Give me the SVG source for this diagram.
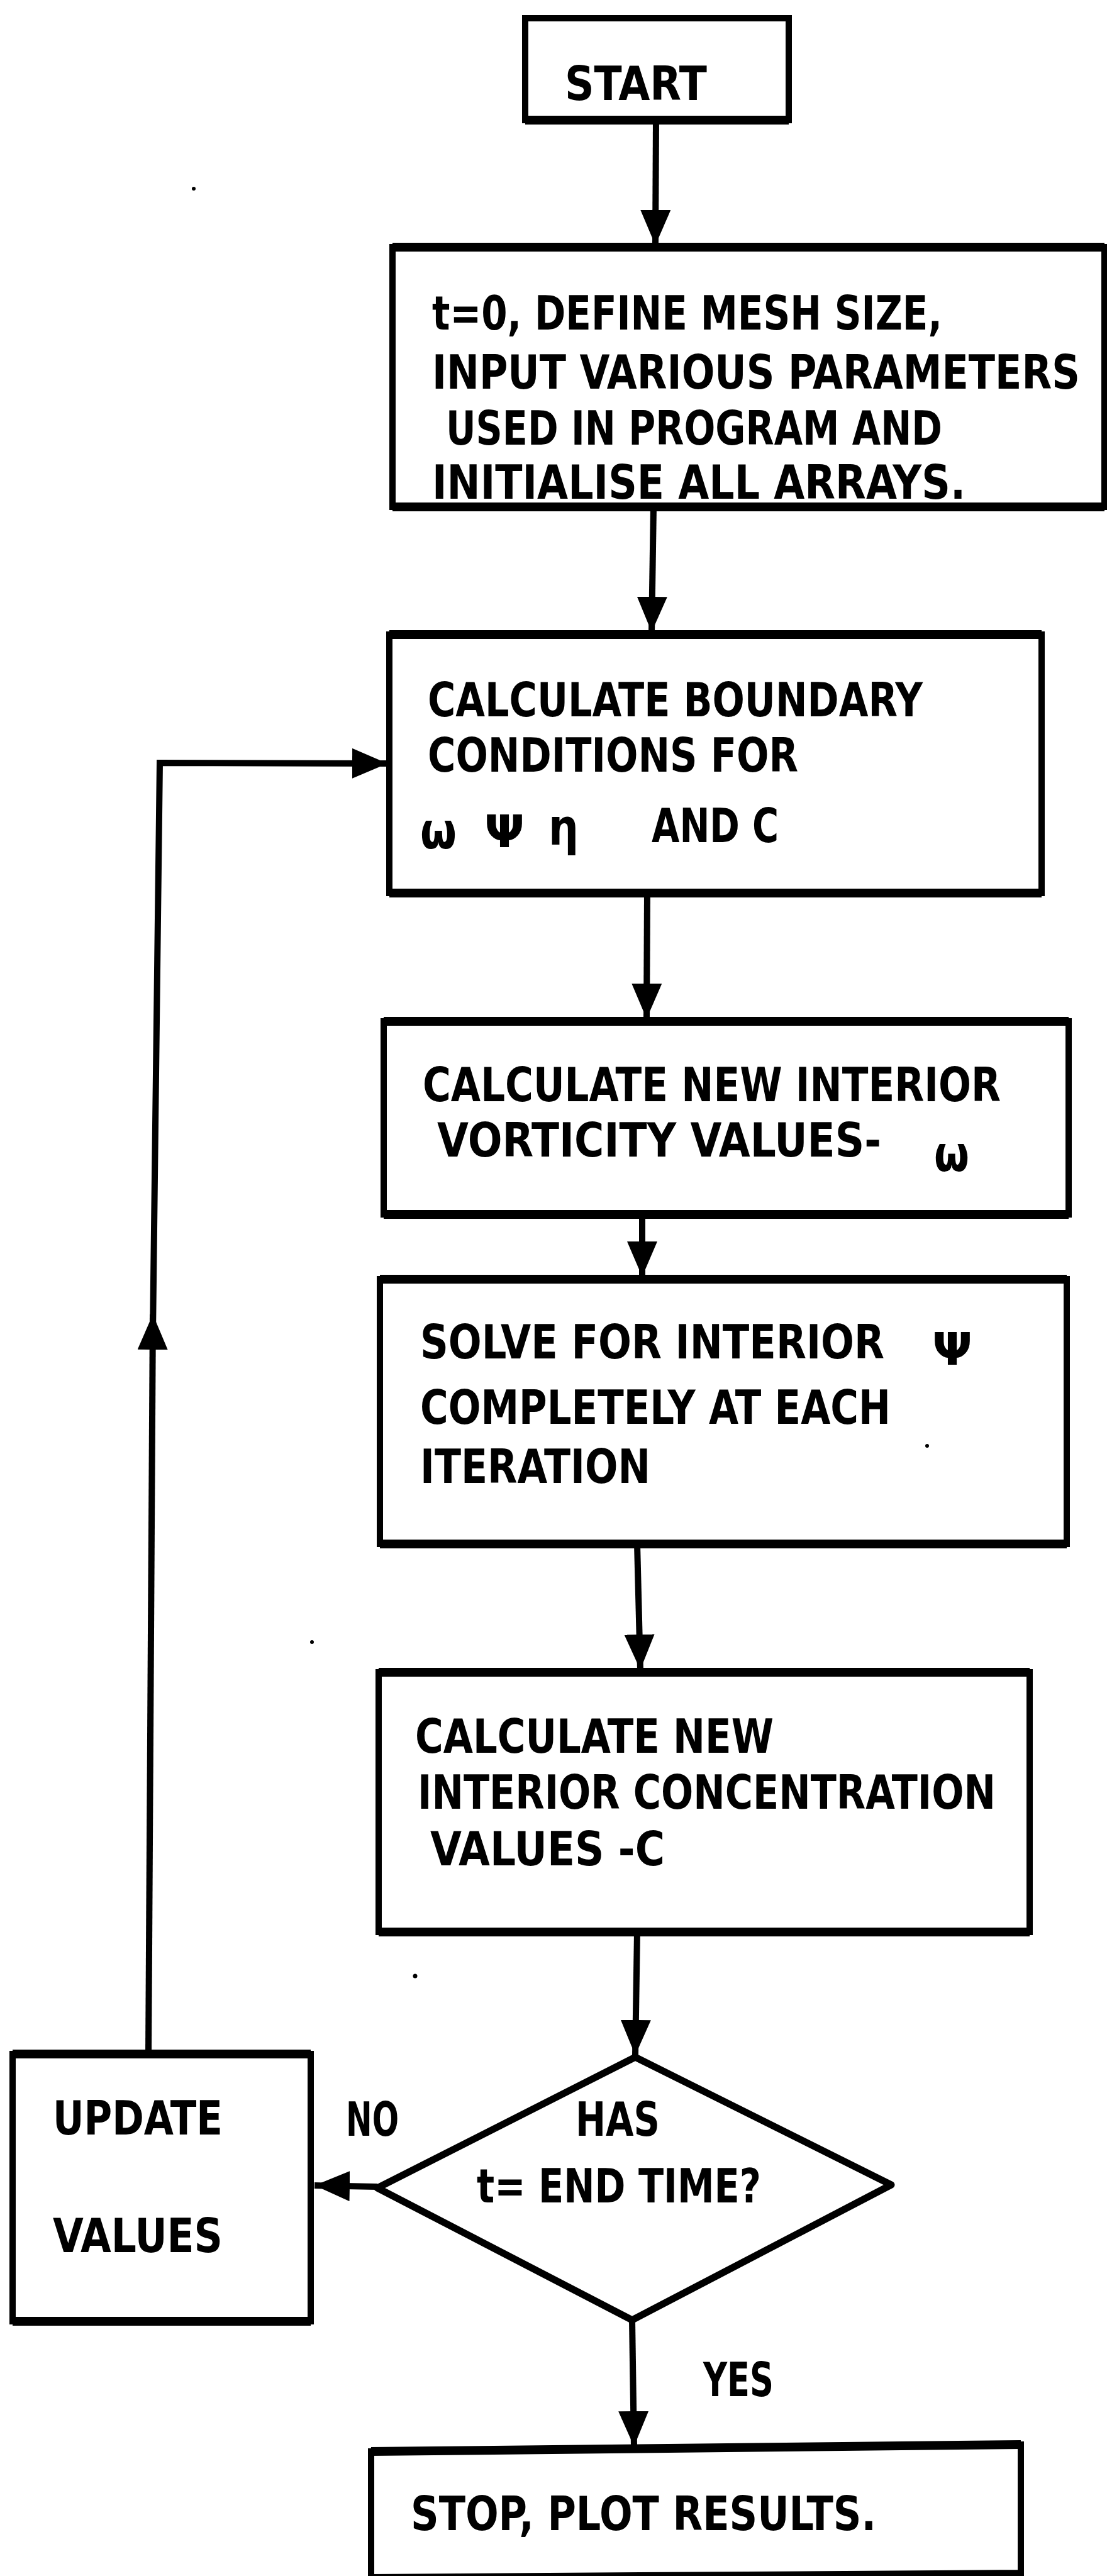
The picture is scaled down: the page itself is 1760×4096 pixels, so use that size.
<svg xmlns="http://www.w3.org/2000/svg" width="1760" height="4096" viewBox="0 0 1760 4096">
<defs>
<style>
.box{fill:#fff;stroke:#000;stroke-width:10;stroke-linejoin:miter}
.edge{stroke:#000;stroke-width:14;fill:none}
.dia{fill:#fff;stroke:#000;stroke-width:11;stroke-linejoin:round}
.t{font-family:"DejaVu Sans Condensed","DejaVu Sans",sans-serif;font-weight:bold;font-size:75px;fill:#000}
.g{font-family:"DejaVu Sans","Liberation Sans",sans-serif;font-weight:bold;fill:#000}
.c{fill:none;stroke:#000;stroke-width:10}
</style>
<marker id="ah" viewBox="0 0 56 48" refX="56" refY="24" markerWidth="56" markerHeight="48" markerUnits="userSpaceOnUse" orient="auto">
<path d="M0,0 L56,24 L0,48 z" fill="#000"/>
</marker>
</defs>
<rect width="1760" height="4096" fill="#fff"/>

<g id="connectors">
<path class="c" d="M1043,191 L1042,390" marker-end="url(#ah)"/>
<path class="c" d="M1039,806 L1036,1005" marker-end="url(#ah)"/>
<path class="c" d="M1029,1420 L1028,1620" marker-end="url(#ah)"/>
<path class="c" d="M1021,1931 L1021,2030" marker-end="url(#ah)"/>
<path class="c" d="M1013,2455 L1018,2655" marker-end="url(#ah)"/>
<path class="c" d="M1013,3072 L1010,3268" marker-end="url(#ah)"/>
<path class="c" d="M600,3477 L500,3475" marker-end="url(#ah)"/>
<path class="c" d="M1005,3689 L1008,3890" marker-end="url(#ah)"/>
<path class="c" d="M236,3266 L243,2090" marker-end="url(#ah)"/>
<path class="c" d="M243,2120 L254,1213 L616,1214" marker-end="url(#ah)"/>
</g>

<g id="start">
<rect class="box" x="835" y="29" width="419" height="162"/>
<path class="edge" d="M835,191 H1254"/>
<text class="t" x="898" y="159" textLength="226" lengthAdjust="spacingAndGlyphs">START</text>
</g>

<g id="init">
<rect class="box" x="624" y="393" width="1132" height="413"/>
<path class="edge" d="M624,393 H1756 M624,806 H1756"/>
<text class="t" x="687" y="524" textLength="811" lengthAdjust="spacingAndGlyphs">t=0, DEFINE MESH SIZE,</text>
<text class="t" transform="translate(687,618) scale(0.84,1)" x="0" y="0" font-size="73" textLength="1226" lengthAdjust="spacingAndGlyphs">INPUT VARIOUS PARAMETERS</text>
<text class="t" x="709" y="707" textLength="789" lengthAdjust="spacingAndGlyphs">USED IN PROGRAM AND</text>
<text class="t" x="687" y="793" textLength="848" lengthAdjust="spacingAndGlyphs">INITIALISE ALL ARRAYS.</text>
</g>

<g id="boundary">
<rect class="box" x="619" y="1009" width="1037" height="411"/>
<path class="edge" d="M619,1009 H1656 M619,1420 H1656"/>
<text class="t" x="680" y="1139" textLength="787" lengthAdjust="spacingAndGlyphs">CALCULATE BOUNDARY</text>
<text class="t" x="680" y="1227" textLength="589" lengthAdjust="spacingAndGlyphs">CONDITIONS  FOR</text>
<text class="g" x="668" y="1349" font-size="80" textLength="58" lengthAdjust="spacingAndGlyphs">ω</text>
<text class="g" x="770" y="1347" font-size="72" textLength="64" lengthAdjust="spacingAndGlyphs">Ψ</text>
<text class="g" x="872" y="1343" font-size="80" textLength="48" lengthAdjust="spacingAndGlyphs">η</text>
<text class="t" x="1036" y="1339" textLength="202" lengthAdjust="spacingAndGlyphs">AND C</text>
</g>

<g id="vorticity">
<rect class="box" x="610" y="1624" width="1089" height="307"/>
<path class="edge" d="M610,1624 H1699 M610,1931 H1699"/>
<text class="t" x="672" y="1751" textLength="919" lengthAdjust="spacingAndGlyphs">CALCULATE NEW INTERIOR</text>
<text class="t" x="695" y="1839" textLength="706" lengthAdjust="spacingAndGlyphs">VORTICITY VALUES-</text>
<text class="g" x="1485" y="1862" font-size="78" textLength="56" lengthAdjust="spacingAndGlyphs">ω</text>
</g>

<g id="solve">
<rect class="box" x="604" y="2034" width="1092" height="421"/>
<path class="edge" d="M604,2034 H1696 M604,2455 H1696"/>
<text class="t" x="668" y="2160" textLength="738" lengthAdjust="spacingAndGlyphs">SOLVE FOR  INTERIOR</text>
<text class="g" x="1482" y="2170" font-size="72" textLength="64" lengthAdjust="spacingAndGlyphs">Ψ</text>
<text class="t" x="668" y="2264" textLength="748" lengthAdjust="spacingAndGlyphs">COMPLETELY AT EACH</text>
<text class="t" x="668" y="2358" textLength="366" lengthAdjust="spacingAndGlyphs">ITERATION</text>
</g>

<g id="concentration">
<rect class="box" x="602" y="2659" width="1035" height="413"/>
<path class="edge" d="M602,2659 H1637 M602,3072 H1637"/>
<text class="t" x="660" y="2787" textLength="570" lengthAdjust="spacingAndGlyphs">CALCULATE NEW</text>
<text class="t" x="664" y="2876" textLength="919" lengthAdjust="spacingAndGlyphs">INTERIOR CONCENTRATION</text>
<text class="t" x="684" y="2966" textLength="373" lengthAdjust="spacingAndGlyphs">VALUES -C</text>
</g>

<g id="decision">
<polygon class="dia" points="1010,3271 1417,3474 1005,3689 600,3479"/>
<text class="t" x="915" y="3396" textLength="134" lengthAdjust="spacingAndGlyphs">HAS</text>
<text class="t" x="758" y="3502" textLength="452" lengthAdjust="spacingAndGlyphs">t= END TIME?</text>
</g>

<g id="label-no">
<text class="t" x="550" y="3396" textLength="84" lengthAdjust="spacingAndGlyphs">NO</text>
</g>
<g id="label-yes">
<text class="t" x="1118" y="3810" textLength="112" lengthAdjust="spacingAndGlyphs">YES</text>
</g>

<g id="update">
<rect class="box" x="20" y="3266" width="474" height="425"/>
<path class="edge" d="M20,3266 H494 M20,3691 H494"/>
<text class="t" x="84" y="3394" textLength="270" lengthAdjust="spacingAndGlyphs">UPDATE</text>
<text class="t" x="84" y="3581" textLength="270" lengthAdjust="spacingAndGlyphs">VALUES</text>
</g>

<g id="stop">
<polygon class="box" points="590,3898 1623,3887 1623,4091 590,4098"/>
<path class="edge" d="M590,3898 L1623,3887"/>
<text class="t" x="653" y="4023" textLength="740" lengthAdjust="spacingAndGlyphs">STOP, PLOT RESULTS.</text>
</g>

<g id="specks" fill="#000">
<circle cx="308" cy="300" r="3"/>
<circle cx="1474" cy="2299" r="3"/>
<circle cx="496" cy="2611" r="3"/>
<circle cx="660" cy="3142" r="3.5"/>
</g>
</svg>
